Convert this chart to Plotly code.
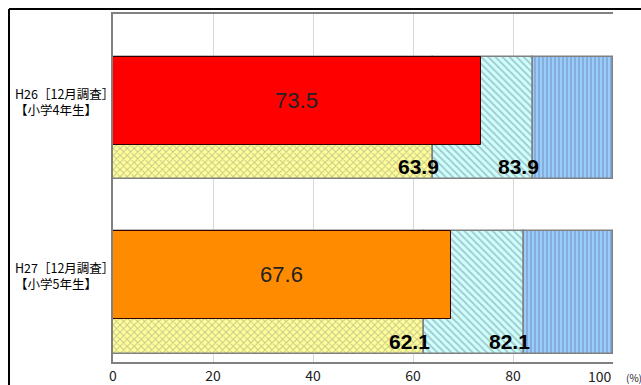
import plotly.graph_objects as go

# ---- data ----
label_line1 = ["H26［12月調査］", "H27［12月調査］"]
label_line2 = ["【小学4年生】", "【小学5年生】"]
top_values = [73.5, 67.6]          # solid bars
seg1_values = [63.9, 62.1]         # first (yellow) segment end
seg2_values = [83.9, 82.1]         # cumulative end of second (cyan) segment
total = 100
top_colors = ["#FF0000", "#FF8C00"]
x_tickvals = [0, 20, 40, 60, 80, 100]
x_ticktext = ["0", "20", "40", "60", "80", ""]
last_tick_text = "100"
unit_text = "(%)"

ypos = list(range(len(top_values)))
cyan_len = [b - a for a, b in zip(seg1_values, seg2_values)]
blue_len = [total - b for b in seg2_values]

BG_W = 0.70
TOP_W = 0.504
OFF = -BG_W / 2
outline = dict(color="#808080", width=1.5)

fig = go.Figure()
fig.add_trace(go.Bar(
    y=ypos, x=seg1_values, base=[0] * len(ypos), orientation="h", width=BG_W,
    marker=dict(color="#FFFF99", line=outline,
                pattern=dict(shape="x", bgcolor="#FFFF99", fgcolor="#8C8C80", size=5, solidity=0.35)),
    showlegend=False, hoverinfo="skip"))
fig.add_trace(go.Bar(
    y=ypos, x=cyan_len, base=seg1_values, orientation="h", width=BG_W,
    marker=dict(color="#CCFFFF", line=outline,
                pattern=dict(shape="\\", bgcolor="#CCFFFF", fgcolor="#7F8F8F", size=5, solidity=0.35)),
    showlegend=False, hoverinfo="skip"))
fig.add_trace(go.Bar(
    y=ypos, x=blue_len, base=seg2_values, orientation="h", width=BG_W,
    marker=dict(color="#99CCFF", line=outline,
                pattern=dict(shape="|", bgcolor="#99CCFF", fgcolor="#6A80A0", size=4, solidity=0.4)),
    showlegend=False, hoverinfo="skip"))
fig.add_trace(go.Bar(
    y=ypos, x=top_values, base=[0] * len(ypos), orientation="h", width=TOP_W, offset=OFF,
    marker=dict(color=top_colors, line=dict(color="#300000", width=1)),
    text=[f"{v:.1f}" for v in top_values], textposition="inside", insidetextanchor="middle",
    textangle=0, textfont=dict(family="Liberation Sans, Arial", size=22, color="#222222"),
    showlegend=False, hoverinfo="skip"))

annotations = []
for i, (a, b) in enumerate(zip(seg1_values, seg2_values)):
    for v in (a, b):
        annotations.append(dict(
            x=v, y=i + 0.278, xref="x", yref="y", text=f"<b>{v:.1f}</b>",
            showarrow=False, xanchor="right", yanchor="middle", xshift=8,
            font=dict(family="Liberation Sans, Arial", size=21, color="#000000")))
label_y = -0.0975
for i, (l1, l2) in enumerate(zip(label_line1, label_line2)):
    annotations.append(dict(x=-0.2, y=i + label_y, xref="paper", yref="y", text=l1 + "<br>" + l2,
                            showarrow=False, xanchor="left", yanchor="middle", align="left",
                            font=dict(family="Noto Sans CJK JP", size=12.5, color="#000000")))
# last tick label and unit
annotations.append(dict(x=total, y=0, xref="x", yref="paper", showarrow=False,
                        text=last_tick_text, xanchor="right", yanchor="middle", xshift=1, yshift=-14,
                        font=dict(family="Noto Sans CJK JP", size=14, color="#222222")))
annotations.append(dict(x=total, y=0, xref="x", yref="paper", showarrow=False,
                        text=unit_text, xanchor="left", yanchor="middle", xshift=11, yshift=-15,
                        font=dict(family="Noto Sans CJK JP", size=10, color="#222222")))

shapes = [
    dict(type="line", xref="paper", yref="paper", x0=-0.208, x1=1.2, y0=1.0144, y1=1.0144,
         line=dict(color="#000000", width=2)),
    dict(type="line", xref="paper", yref="paper", x0=-0.208, x1=-0.208, y0=1.0144, y1=-0.2,
         line=dict(color="#000000", width=2)),
]

fig.update_layout(
    width=641, height=385,
    margin=dict(l=113, r=28, t=14, b=23, autoexpand=False),
    paper_bgcolor="white", plot_bgcolor="white",
    barmode="overlay", bargap=0,
    annotations=annotations, shapes=shapes,
    xaxis=dict(range=[0, 100], tickvals=x_tickvals, ticktext=x_ticktext,
               showgrid=True, gridcolor="#D9D9D9", gridwidth=1,
               showline=True, linecolor="#808080", linewidth=1.5, mirror=True,
               ticks="", zeroline=False, automargin=False,
               tickfont=dict(family="Noto Sans CJK JP", size=14, color="#222222")),
    yaxis=dict(range=[1.398, -0.596], showticklabels=False, showgrid=False, automargin=False,
               zeroline=False, showline=True, linecolor="#808080", linewidth=1.5, ticks=""),
)

fig.write_html("out.html", config={"displayModeBar": False},
               post_script="document.body.style.margin='0';document.body.style.overflow='hidden';")
